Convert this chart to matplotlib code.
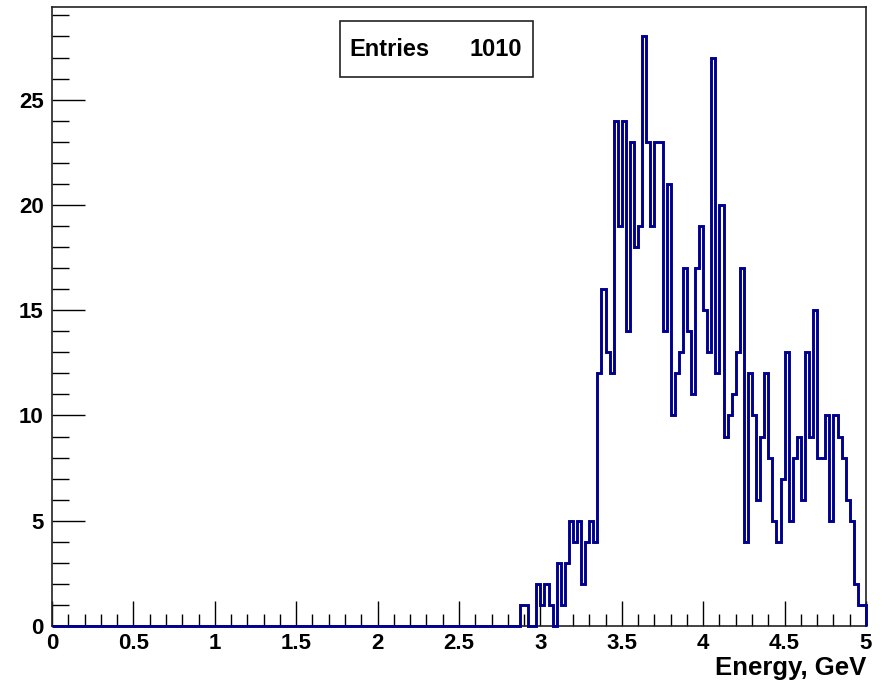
import numpy as np
import matplotlib
matplotlib.use("Agg")
import matplotlib.pyplot as plt
from matplotlib.ticker import MultipleLocator

# Histogram definition: 200 bins over 0-5 GeV
n_bins = 200
x_min, x_max = 0.0, 5.0
entries = 1010

# Bin contents starting at the bin whose low edge is 2.875 GeV (earlier bins are empty)
first_filled_low_edge = 2.875
counts_tail = [
    1, 1, 0, 0, 2,                      # 2.875 - 3.000
    1, 2, 1, 0, 3, 1, 3, 5, 4, 5,       # 3.000 - 3.250
    2, 4, 5, 4, 12, 16, 13, 12, 24, 19, # 3.250 - 3.500
    24, 14, 23, 18, 19, 28, 23, 19, 23, 23,  # 3.500 - 3.750
    14, 21, 10, 12, 13, 17, 14, 11, 17, 19,  # 3.750 - 4.000
    15, 13, 27, 12, 20, 9, 10, 11, 13, 17,   # 4.000 - 4.250
    4, 12, 10, 6, 9, 12, 8, 5, 4, 7,         # 4.250 - 4.500
    13, 5, 8, 9, 6, 13, 9, 15, 8, 8,         # 4.500 - 4.750
    10, 5, 10, 9, 8, 6, 5, 2, 1, 1,          # 4.750 - 5.000
]

x_label = "Energy, GeV"
x_tick_labels = ["0", "0.5", "1", "1.5", "2", "2.5", "3", "3.5", "4", "4.5", "5"]

edges = np.linspace(x_min, x_max, n_bins + 1)
counts = np.zeros(n_bins)
start = int(round((first_filled_low_edge - x_min) / ((x_max - x_min) / n_bins)))
counts[start:start + len(counts_tail)] = counts_tail

W, H = 885, 684
fig = plt.figure(figsize=(W / 100, H / 100), dpi=100)
fig.patch.set_facecolor("white")

left_px, right_px, top_px, bottom_px = 52, 866, 7, 626
ax = fig.add_axes([left_px / W, 1 - bottom_px / H,
                   (right_px - left_px) / W, (bottom_px - top_px) / H])

line_color = "#00008f"
ax.stairs(counts, edges, baseline=0, color=line_color, linewidth=2.1,
          zorder=5, clip_on=False)

ax.set_xlim(x_min, x_max)
ax.set_ylim(0, 1.05 * counts.max())

font = "Liberation Sans"
ax.xaxis.set_minor_locator(MultipleLocator(0.1))
ax.yaxis.set_minor_locator(MultipleLocator(1))

ax.tick_params(axis="x", which="major", direction="in", length=18, width=1.0, pad=5)
ax.tick_params(axis="x", which="minor", direction="in", length=9, width=1.0)
ax.tick_params(axis="y", which="major", direction="in", length=24, width=1.0, pad=6)
ax.tick_params(axis="y", which="minor", direction="in", length=12, width=1.0)

ax.set_xticks(np.linspace(x_min, x_max, len(x_tick_labels)))
ax.set_xticklabels(x_tick_labels, fontfamily=font, fontweight="bold", fontsize=16)
ax.set_yticks(np.arange(0, 26, 5))
ax.set_yticklabels([str(v) for v in range(0, 26, 5)],
                   fontfamily=font, fontweight="bold", fontsize=16)

for s in ax.spines.values():
    s.set_linewidth(1.2)
    s.set_color("#222222")

fig.text(right_px / W, 1 - 668 / H, x_label, ha="right", va="center",
         fontfamily=font, fontweight="bold", fontsize=18.5)

# Statistics box
box_l, box_r, box_t, box_b = 340, 533, 21, 77
box = plt.Rectangle((box_l / W, 1 - box_b / H), (box_r - box_l) / W, (box_b - box_t) / H,
                    transform=fig.transFigure, facecolor="white", edgecolor="#222222",
                    linewidth=1.2, zorder=10)
fig.add_artist(box)
fig.text(349 / W, 1 - 49 / H, "Entries", ha="left", va="center",
         fontfamily=font, fontweight="bold", fontsize=17, zorder=11)
fig.text(522 / W, 1 - 49 / H, f"{entries}", ha="right", va="center",
         fontfamily=font, fontweight="bold", fontsize=17, zorder=11)

fig.savefig("out.png", dpi=100, facecolor="white")
